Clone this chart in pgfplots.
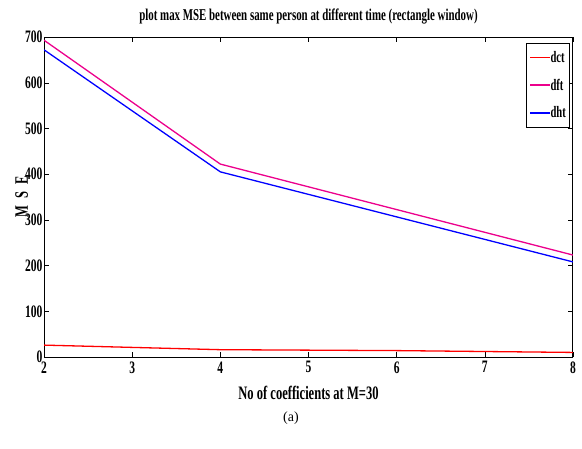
\documentclass[border=0pt]{standalone}
\usepackage{pgfplots}
\pgfplotsset{compat=1.18}
\usepackage{fontspec}
\setmainfont{Liberation Serif}
\newfontfamily\cond[FakeStretch=0.66]{Liberation Serif}
\begin{document}
\begin{tikzpicture}[x=1pt,y=1pt]
\path[use as bounding box] (0,0) rectangle (582,448);
\begin{axis}[
  at={(44pt,91pt)}, anchor=south west,
  scale only axis, width=529pt, height=320pt,
  xmin=2, xmax=8, ymin=0, ymax=700,
  xtick={2,3,4,5,6,7,8}, ytick={0,100,...,700},
  tick align=inside, tick style={black, thin},
  major tick length=5pt,
  axis line style={black, line width=1pt},
  ticklabel style={font=\cond\fontsize{17.5}{17.5}\selectfont\bfseries},
  /pgf/number format/assume math mode=true,
  xticklabel style={yshift=-1pt},
  yticklabel style={xshift=2pt},
  title={\cond\fontsize{16.5}{17}\selectfont\bfseries plot max MSE between same person at different time (rectangle window)},
  title style={yshift=3pt},
  xlabel={\cond\fontsize{19}{19}\selectfont\bfseries No of coefficients at M=30},
  xlabel style={yshift=-6pt},
  ylabel={\cond\fontsize{19}{19}\selectfont\bfseries M\hspace{7pt}S\hspace{7pt}E},
  ylabel style={at={(axis description cs:-0.042,0.5)}, anchor=center},
  legend style={at={(0.995,0.982)}, anchor=north east, line width=1pt,
    font=\cond\fontsize{16}{16}\selectfont\bfseries, row sep=13pt, inner xsep=3pt, inner ysep=7pt,
    nodes={inner sep=1pt}},
  legend cell align=left,
  legend image code/.code={\fill[#1, draw=none] (0pt,-0.75pt) rectangle (20pt,0.75pt);},
]
\addplot[color=red, line width=1.3pt] coordinates {(2,26) (3,21) (4,16) (5,15) (6,14) (7,12) (8,10)};
\addlegendentry{dct}
\addplot[color=magenta, line width=1.3pt] coordinates {(2,693) (4,422) (8,223)};
\addlegendentry{dft}
\addplot[color=blue, line width=1.3pt] coordinates {(2,672) (4,405) (8,208)};
\addlegendentry{dht}
\end{axis}
\node at (291,30) {\fontsize{14}{16}\selectfont (a)};
\end{tikzpicture}
\end{document}
